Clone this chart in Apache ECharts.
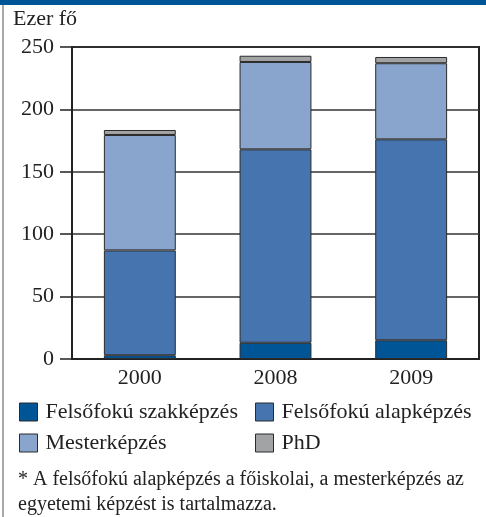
<!DOCTYPE html>
<html>
<head>
<meta charset="utf-8">
<script src="https://cdn.jsdelivr.net/npm/echarts@6/dist/echarts.min.js"></script>
<style>
    html, body { margin: 0; padding: 0; background: #fff; }
    #chart { width: 486px; height: 517px; }
</style>
</head>
<body>
<div id="chart"></div>
<script>
const years = ["2000", "2008", "2009"];
const szakkepzes = [3, 13, 15];
const alapkepzes = [84, 155, 161];
const mesterkepzes = [92.5, 70, 61];
const phd = [4, 5, 5];
const yTicks = [0, 50, 100, 150, 200, 250];

const FONT = "Liberation Serif";

function barSeries(name, data, color) {
    return {
        name: name,
        type: "bar",
        stack: "total",
        data: data,
        barWidth: "53%",
        itemStyle: {
            color: color,
            borderColor: "#2b2b2b",
            borderWidth: 1
        }
    };
}

const legendBase = {
    orient: "vertical",
    top: 396,
    itemGap: 9,
    itemWidth: 18,
    itemHeight: 18,
    icon: "rect",
    textStyle: { fontFamily: FONT, fontSize: 22, color: "#222", padding: [0, 0, 0, 3] },
    itemStyle: { borderColor: "#2b2b2b", borderWidth: 1 }
};

const chart = echarts.init(document.getElementById("chart"));

chart.setOption({
    animation: false,
    textStyle: { fontFamily: FONT },
    grid: {
        left: 72,
        right: 7,
        top: 47,
        bottom: 158,
        show: true,
        borderColor: "#222",
        borderWidth: 2
    },
    legend: [
        Object.assign({}, legendBase, { left: 14, data: ["Felsőfokú szakképzés", "Mesterképzés"] }),
        Object.assign({}, legendBase, { left: 250, data: ["Felsőfokú alapképzés", "PhD"] })
    ],
    xAxis: {
        type: "category",
        data: years,
        axisLine: { lineStyle: { color: "#222", width: 2 } },
        axisTick: { show: false },
        axisLabel: { fontFamily: FONT, fontSize: 22, color: "#222", margin: 8 }
    },
    yAxis: {
        type: "value",
        min: yTicks[0],
        max: yTicks[yTicks.length - 1],
        interval: 50,
        axisLine: { show: true, lineStyle: { color: "#222", width: 2 } },
        axisTick: { show: true, length: 12, lineStyle: { color: "#222", width: 1.5 } },
        axisLabel: { fontFamily: FONT, fontSize: 22, color: "#222", margin: 18 },
        splitLine: { lineStyle: { color: "#333", width: 1.5 } }
    },
    series: [
        barSeries("Felsőfokú szakképzés", szakkepzes, "#005596"),
        barSeries("Felsőfokú alapképzés", alapkepzes, "#4574ae"),
        barSeries("Mesterképzés", mesterkepzes, "#8aa5cd"),
        barSeries("PhD", phd, "#a2a3a5")
    ],
    graphic: [
        { type: "rect", shape: { x: 0, y: 0, width: 486, height: 5 }, style: { fill: "#005596" } },
        { type: "rect", shape: { x: 2, y: 5, width: 2, height: 512 }, style: { fill: "#a8a8a8" } },
        {
            type: "text", left: 13, top: 8,
            style: { text: "Ezer fő", fontFamily: FONT, fontSize: 22, fill: "#222" }
        },
        {
            type: "text", left: 18, top: 467,
            style: {
                text: "* A felsőfokú alapképzés a főiskolai, a mesterképzés az\negyetemi képzést is tartalmazza.",
                fontFamily: FONT, fontSize: 20, fill: "#222", lineHeight: 25
            }
        }
    ]
});
</script>
</body>
</html>
